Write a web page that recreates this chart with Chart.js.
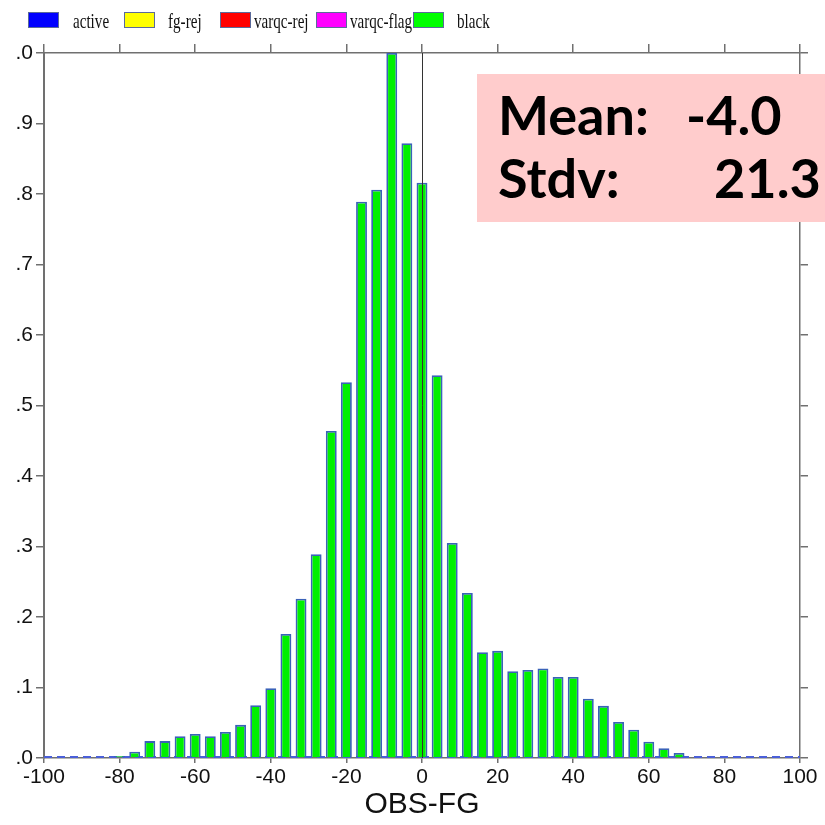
<!DOCTYPE html>
<html>
<head>
<meta charset="utf-8">
<script src="https://cdn.jsdelivr.net/npm/chart.js@4"></script>
<style>
  html, body { margin: 0; padding: 0; background: #fff; }
  #wrap { width: 825px; height: 825px; }
</style>
</head>
<body>
<div id="wrap"><canvas id="histo" width="825" height="825"></canvas></div>
<script>
// bin centres of OBS-FG (step 4)
const binCenters = [-100, -96, -92, -88, -84, -80, -76, -72, -68, -64, -60, -56, -52, -48, -44, -40, -36, -32, -28, -24, -20, -16, -12, -8, -4,
    0, 4, 8, 12, 16, 20, 24, 28, 32, 36, 40, 44, 48, 52, 56, 60, 64, 68, 72, 76, 80, 84, 88, 92, 96, 100]
// normalised counts, "black" category
const blackValues = [0, 0, 0, 0, 0.001, 0.003, 0.009, 0.024, 0.024, 0.031, 0.034, 0.031, 0.037, 0.047, 0.075, 0.099, 0.176, 0.226, 0.289, 0.464, 0.533, 0.789, 0.806, 1.0, 0.872,
    0.816, 0.543, 0.305, 0.234, 0.150, 0.152, 0.123, 0.125, 0.127, 0.115, 0.115, 0.084, 0.074, 0.051, 0.040, 0.023, 0.014, 0.007, 0.001, 0, 0, 0, 0, 0, 0, 0]

const legendLabels = ['active', 'fg-rej', 'varqc-rej', 'varqc-flag', 'black']
const legendColors = ['#0000ff', '#ffff00', '#ff0000', '#ff00ff', '#00ff00']

const xTicks = [-100, -80, -60, -40, -20, 0, 20, 40, 60, 80, 100]
const statLabels = ['Mean:', 'Stdv:']
const statValues = ['-4.0', '21.3']

const axisGray = '#707070'

// legend across the top, drawn by hand (spacing of the original is uneven)
const legendPlugin = {
    id: 'topLegend',
    afterDraw(chart) {
        const ctx = chart.ctx
        const boxX = [28, 124, 220, 316, 413]
        const textX = [73, 168, 254, 350, 457]
        ctx.save()
        ctx.font = '21px "Liberation Serif"'
        ctx.textBaseline = 'alphabetic'
        legendLabels.forEach((l, i) => {
            ctx.fillStyle = legendColors[i]
            ctx.fillRect(boxX[i], 12, 31, 16)
            ctx.strokeStyle = '#5a6a9a'
            ctx.lineWidth = 1
            ctx.strokeRect(boxX[i] + 0.5, 12.5, 30, 15)
            ctx.fillStyle = '#111'
            ctx.save()
            ctx.translate(textX[i], 28)
            ctx.scale(0.72, 1)
            ctx.fillText(l, 0, 0)
            ctx.restore()
        })
        ctx.restore()
    }
}

// zero line, dashed baseline and the pink stats box
const extrasPlugin = {
    id: 'extras',
    beforeDatasetsDraw(chart) {
        const ctx = chart.ctx
        const x = chart.scales.x, y = chart.scales.y
        ctx.save()
        ctx.strokeStyle = '#4a5fd8'
        ctx.lineWidth = 2
        ctx.setLineDash([8, 5])
        ctx.beginPath()
        ctx.moveTo(x.left, y.getPixelForValue(0) - 1)
        ctx.lineTo(x.right, y.getPixelForValue(0) - 1)
        ctx.stroke()
        ctx.restore()
    },
    afterDatasetsDraw(chart) {
        const ctx = chart.ctx
        const x = chart.scales.x, area = chart.chartArea
        const zx = Math.round(x.getPixelForValue(0)) + 0.5
        ctx.save()
        ctx.strokeStyle = '#333'
        ctx.lineWidth = 1
        ctx.beginPath()
        ctx.moveTo(zx, area.top)
        ctx.lineTo(zx, area.bottom)
        ctx.stroke()

        // stats box
        ctx.fillStyle = '#ffcccc'
        ctx.fillRect(477, 74, 348, 148)
        ctx.fillStyle = '#000'
        ctx.font = 'bold 54px Lato'
        ctx.textBaseline = 'alphabetic'
        ctx.fillText(statLabels[0], 498, 135)
        ctx.fillText(statLabels[1], 498, 198)
        ctx.fillText(statValues[0], 686, 135)
        ctx.fillText(statValues[1], 714, 198)
        ctx.restore()
    }
}

const ctx = document.getElementById('histo')
new Chart(ctx, {
    type: 'bar',
    data: {
        datasets: [{
            label: 'black',
            data: binCenters.map((c, i) => ({ x: c, y: blackValues[i] })),
            backgroundColor: '#00f000',
            borderColor: '#3a62b8',
            borderWidth: 1.8,
            borderSkipped: 'start',
            barPercentage: 0.72,
            categoryPercentage: 1.0
        }]
    },
    options: {
        responsive: false,
        animation: false,
        layout: { padding: 0 },
        plugins: {
            legend: { display: false },
            tooltip: { enabled: false }
        },
        scales: {
            x: {
                type: 'linear',
                position: 'bottom',
                offset: false,
                min: -100,
                max: 100,
                afterBuildTicks: s => { s.ticks = xTicks.map(v => ({ value: v })) },
                afterFit: s => { s.height = 67 },
                ticks: {
                    color: '#111',
                    font: { family: 'Liberation Sans', size: 21 },
                    padding: 2,
                    maxRotation: 0
                },
                grid: { drawOnChartArea: false, tickLength: 5, color: axisGray, lineWidth: 1.5, offset: false },
                border: { color: axisGray, width: 1.5 },
                title: {
                    display: true,
                    text: 'OBS-FG',
                    color: '#111',
                    font: { family: 'Liberation Sans', size: 30 },
                    padding: { top: 0, bottom: 2 }
                }
            },
            xTop: {
                type: 'linear',
                position: 'top',
                offset: false,
                min: -100,
                max: 100,
                afterBuildTicks: s => { s.ticks = xTicks.map(v => ({ value: v })) },
                afterFit: s => { s.height = 53 },
                ticks: { display: false },
                grid: { drawOnChartArea: false, tickLength: 9, color: axisGray, lineWidth: 1.5, offset: false },
                border: { color: axisGray, width: 1.5 }
            },
            y: {
                min: 0,
                max: 1,
                position: 'left',
                afterFit: s => { s.width = 44 },
                ticks: {
                    stepSize: 0.1,
                    color: '#111',
                    font: { family: 'Liberation Sans', size: 21 },
                    padding: 3,
                    callback: v => '.' + (Math.round(v * 10) % 10)
                },
                grid: { drawOnChartArea: false, tickLength: 8, color: axisGray, lineWidth: 1.5 },
                border: { color: axisGray, width: 2 }
            },
            yRight: {
                min: 0,
                max: 1,
                position: 'right',
                afterFit: s => { s.width = 25 },
                ticks: { display: false, stepSize: 0.1 },
                grid: { drawOnChartArea: false, tickLength: 8, color: axisGray, lineWidth: 1.5 },
                border: { color: axisGray, width: 1.5 }
            }
        }
    },
    plugins: [legendPlugin, extrasPlugin]
})
</script>
</body>
</html>
